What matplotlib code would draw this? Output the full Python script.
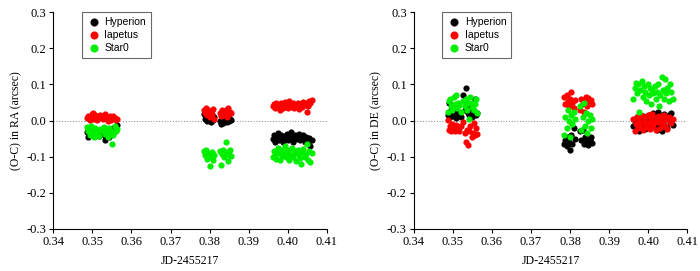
import numpy as np
import matplotlib
matplotlib.use("Agg")
import matplotlib.pyplot as plt

plt.rcParams['axes.unicode_minus'] = False

# observation times (JD-2455217) for the three groups
t1 = [0.3487, 0.3490, 0.3493, 0.3496, 0.3499, 0.3502, 0.3505, 0.3508, 0.3511, 0.3514, 0.3517, 0.3520,
      0.3527, 0.3530, 0.3533, 0.3536, 0.3539, 0.3542, 0.3545, 0.3548, 0.3551, 0.3554, 0.3557, 0.3560, 0.3563]
t2 = [0.3785, 0.3788, 0.3791, 0.3794, 0.3797, 0.3800, 0.3803, 0.3806, 0.3809, 0.3812,
      0.3826, 0.3829, 0.3832, 0.3835, 0.3838, 0.3841, 0.3844, 0.3847, 0.3850, 0.3853, 0.3856]
t3 = [0.3962, 0.3965, 0.3968, 0.3971, 0.3974, 0.3977, 0.3980, 0.3983, 0.3986, 0.3989, 0.3992, 0.3995,
      0.3998, 0.4001, 0.4004, 0.4007, 0.4010, 0.4013, 0.4016, 0.4019, 0.4022, 0.4025, 0.4028, 0.4031,
      0.4034, 0.4037, 0.4040, 0.4043, 0.4046, 0.4049, 0.4052, 0.4055, 0.4058, 0.4062]

# RA residuals (arcsec)
ra_hyp_1 = [-0.032, -0.045, -0.030, -0.038, -0.028, -0.040, -0.035, -0.042, -0.030, -0.037, -0.044, -0.033,
            -0.028, -0.040, -0.055, -0.035, -0.030, -0.046, -0.025, -0.038, -0.032, -0.020, -0.028, -0.015, -0.012]
ra_iap_1 = [0.008, 0.012, 0.003, 0.010, 0.018, 0.022, 0.005, 0.015, 0.002, 0.010, 0.008, 0.016,
            0.004, 0.012, 0.018, 0.006, 0.000, 0.010, 0.014, 0.003, 0.008, 0.012, 0.006, 0.002, 0.005]
ra_star_1 = [-0.018, -0.028, -0.040, -0.015, -0.035, -0.025, -0.045, -0.020, -0.038, -0.030, -0.042, -0.022,
             -0.030, -0.018, -0.038, -0.025, -0.045, -0.020, -0.032, -0.028, -0.065, -0.040, -0.015, -0.030, -0.022]
ra_hyp_2 = [0.018, 0.005, 0.012, -0.002, 0.020, 0.008, -0.005, 0.015, 0.002, 0.010,
            0.000, -0.010, 0.005, -0.008, 0.002, 0.010, -0.003, 0.006, 0.000, 0.004, 0.002]
ra_iap_2 = [0.030, 0.022, 0.035, 0.015, 0.028, 0.010, 0.025, 0.018, 0.032, 0.005,
            0.020, 0.012, 0.028, 0.015, 0.022, 0.030, 0.010, 0.035, 0.018, 0.025, 0.020]
ra_star_2 = [-0.085, -0.095, -0.080, -0.105, -0.090, -0.125, -0.100, -0.088, -0.110, -0.095,
             -0.085, -0.122, -0.092, -0.080, -0.100, -0.060, -0.088, -0.112, -0.095, -0.082, -0.098]
ra_hyp_3 = [-0.050, -0.040, -0.058, -0.045, -0.035, -0.055, -0.048, -0.040, -0.052, -0.060, -0.042, -0.050,
            -0.038, -0.055, -0.045, -0.032, -0.050, -0.058, -0.044, -0.040, -0.052, -0.048, -0.036, -0.055,
            -0.046, -0.050, -0.040, -0.058, -0.045, -0.052, -0.062, -0.048, -0.070, -0.055]
ra_iap_3 = [0.040, 0.045, 0.035, 0.048, 0.038, 0.042, 0.030, 0.050, 0.044, 0.036, 0.052, 0.040,
            0.046, 0.034, 0.055, 0.042, 0.038, 0.048, 0.036, 0.044, 0.040, 0.050, 0.032, 0.046,
            0.042, 0.038, 0.052, 0.044, 0.048, 0.025, 0.040, 0.055, 0.050, 0.056]
ra_star_3 = [-0.100, -0.085, -0.095, -0.105, -0.075, -0.090, -0.110, -0.080, -0.098, -0.088, -0.070, -0.102,
             -0.092, -0.080, -0.108, -0.095, -0.075, -0.100, -0.085, -0.090, -0.112, -0.082, -0.096, -0.104,
             -0.120, -0.088, -0.078, -0.100, -0.092, -0.065, -0.110, -0.085, -0.115, -0.090]

# DE residuals (arcsec)
de_hyp_1 = [0.015, 0.048, 0.010, 0.030, 0.020, 0.012, 0.025, 0.008, 0.040, 0.018, 0.022, 0.010,
            0.072, 0.030, 0.090, 0.045, 0.020, 0.015, 0.035, 0.010, 0.050, 0.025, 0.060, 0.015, 0.020]
de_iap_1 = [0.002, -0.025, -0.015, -0.030, -0.010, -0.020, -0.028, -0.012, -0.022, -0.018, -0.030, -0.015,
            -0.005, -0.035, -0.060, -0.025, -0.068, -0.030, -0.015, -0.045, -0.035, -0.008, -0.040, -0.020, -0.038]
de_star_1 = [0.025, 0.055, 0.060, 0.040, 0.030, 0.065, 0.045, 0.070, 0.035, 0.050, 0.042, 0.025,
             0.055, 0.040, 0.060, 0.030, 0.048, 0.005, 0.065, 0.038, 0.050, 0.028, 0.045, 0.060, 0.020]
de_hyp_2 = [-0.065, -0.055, -0.070, -0.045, -0.060, -0.080, -0.040, -0.065, -0.020, -0.050,
            -0.030, -0.055, -0.025, -0.065, -0.045, -0.060, -0.050, -0.068, -0.055, -0.045, -0.062]
de_iap_2 = [0.065, 0.045, 0.070, 0.055, 0.040, 0.060, 0.080, 0.050, 0.035, 0.058,
            0.030, 0.060, 0.045, 0.025, 0.055, 0.065, 0.040, 0.062, 0.050, 0.058, 0.045]
de_star_2 = [-0.040, 0.010, -0.020, 0.030, 0.000, -0.045, 0.015, -0.010, 0.025, 0.005,
             0.040, -0.025, 0.010, 0.048, -0.015, 0.020, -0.035, 0.000, 0.015, -0.020, 0.005]
de_hyp_3 = [-0.015, 0.000, -0.025, 0.010, -0.010, -0.028, 0.005, -0.018, 0.012, -0.005, -0.022, 0.008,
            -0.012, 0.015, -0.020, 0.000, -0.008, 0.020, -0.015, 0.005, -0.025, 0.025, -0.010, 0.012,
            -0.028, 0.000, 0.018, -0.015, 0.008, -0.020, 0.015, -0.005, 0.020, -0.012]
de_iap_3 = [0.005, -0.028, -0.010, 0.010, -0.020, 0.000, -0.015, 0.012, -0.025, -0.005, 0.008, -0.018,
            0.015, -0.008, -0.022, 0.005, 0.018, -0.012, 0.000, -0.025, 0.010, -0.005, 0.012, -0.020,
            0.002, -0.010, 0.015, -0.015, 0.005, -0.022, 0.010, 0.000, -0.008, 0.005]
de_star_3 = [0.060, 0.090, 0.105, 0.075, 0.100, 0.025, 0.085, 0.110, 0.065, 0.095, 0.080, 0.055,
             0.100, 0.070, 0.090, 0.045, 0.085, 0.075, 0.095, 0.060, 0.080, 0.100, 0.040, 0.070,
             0.120, 0.085, 0.060, 0.115, 0.075, 0.090, 0.055, 0.100, 0.080, 0.060]

labels = ['Hyperion', 'Iapetus', 'Star0']
colors = ['black', '#ff0000', '#00ee00']
x_ticks = [0.34, 0.35, 0.36, 0.37, 0.38, 0.39, 0.40, 0.41]
y_ticks = [-0.3, -0.2, -0.1, 0.0, 0.1, 0.2, 0.3]

t_all = t1 + t2 + t3
ra = [ra_hyp_1 + ra_hyp_2 + ra_hyp_3, ra_iap_1 + ra_iap_2 + ra_iap_3, ra_star_1 + ra_star_2 + ra_star_3]
de = [de_hyp_1 + de_hyp_2 + de_hyp_3, de_iap_1 + de_iap_2 + de_iap_3, de_star_1 + de_star_2 + de_star_3]

fig = plt.figure(figsize=(7.0, 2.71), dpi=100)
ax1 = fig.add_axes([0.076, 0.155, 0.391, 0.80])
ax2 = fig.add_axes([0.591, 0.155, 0.391, 0.80])

serif = 'Liberation Serif'
for ax, data, ylab in [(ax1, ra, '(O-C) in RA (arcsec)'), (ax2, de, '(O-C) in DE (arcsec)')]:
    for vals, lab, c in zip(data, labels, colors):
        ax.scatter(t_all, vals, s=20, color=c, label=lab, linewidths=0, zorder=3)
    ax.axhline(0.0, color='#999999', lw=0.8, ls=(0, (1, 1.5)), zorder=1)
    ax.set_xlim(0.34, 0.41)
    ax.set_ylim(-0.3, 0.3)
    ax.set_xticks(x_ticks)
    ax.set_yticks(y_ticks)
    ax.set_xticklabels(['%.2f' % v for v in x_ticks], fontfamily=serif, fontsize=9)
    ax.set_yticklabels(['%.1f' % v for v in y_ticks], fontfamily=serif, fontsize=9)
    ax.spines['top'].set_visible(False)
    ax.spines['right'].set_visible(False)
    for s in ['left', 'bottom']:
        ax.spines[s].set_linewidth(0.8)
    ax.tick_params(direction='out', length=3, width=0.8, pad=2)
    ax.set_xlabel('JD-2455217', fontfamily=serif, fontsize=8.5, labelpad=5)
    ax.set_ylabel(ylab, fontfamily=serif, fontsize=8.5, labelpad=3)
    leg = ax.legend(loc='upper left', bbox_to_anchor=(0.105, 1.0), frameon=True, fancybox=False,
                    prop={'family': 'Liberation Sans', 'size': 7.5}, handletextpad=0.3,
                    borderpad=0.45, labelspacing=0.3, handlelength=1.4, markerscale=1.3,
                    borderaxespad=0.0)
    leg.get_frame().set_edgecolor('#444444')
    leg.get_frame().set_linewidth(0.8)

fig.savefig('out.png', dpi=100)
